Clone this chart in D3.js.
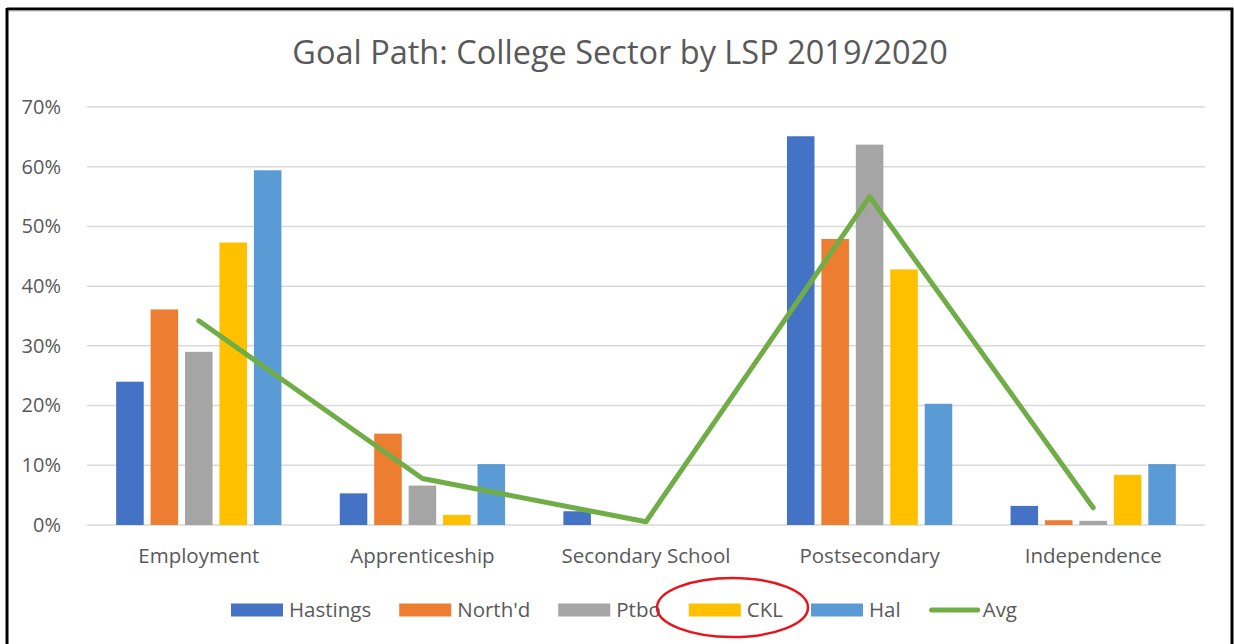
<!DOCTYPE html>
<html>
<head>
<meta charset="utf-8">
<script src="https://cdn.jsdelivr.net/npm/d3@7"></script>
<style>
  body { margin: 0; background: #fff; }
  svg { display: block; font-family: "Open Sans", Lato, sans-serif; }
</style>
</head>
<body>
<svg id="chart" width="1234" height="644"></svg>
<script>
const categories = ["Employment", "Apprenticeship", "Secondary School", "Postsecondary", "Independence"];
const seriesNames = ["Hastings", "North'd", "Ptbo", "CKL", "Hal"];
const hastings = [24.0, 5.3, 2.3, 65.1, 3.2];
const northd   = [36.1, 15.3, 0, 47.9, 0.8];
const ptbo     = [29.0, 6.6, 0, 63.7, 0.7];
const ckl      = [47.3, 1.7, 0, 42.8, 8.4];
const hal      = [59.4, 10.2, 0, 20.3, 10.2];
const avg      = [34.2, 7.8, 0.55, 55.0, 2.9];
const yTicks = [0, 10, 20, 30, 40, 50, 60, 70];

const seriesValues = [hastings, northd, ptbo, ckl, hal];
const colors = ["#4472C4", "#ED7D31", "#A5A5A5", "#FFC000", "#5B9BD5"];
const avgColor = "#70AD47";
const textColor = "#595959";
const fontFam = '"Open Sans", Lato, sans-serif';

const plot = {left: 87, right: 1205, top: 107, bottom: 525};

const svg = d3.select('#chart');

// outer frame
svg.append('line').attr('x1', 7).attr('y1', 9).attr('x2', 1233).attr('y2', 9)
    .style('stroke', '#000').style('stroke-width', 3);
svg.append('line').attr('x1', 7).attr('y1', 11).attr('x2', 1231).attr('y2', 11)
    .style('stroke', '#bfbfbf').style('stroke-width', 1);
svg.append('line').attr('x1', 7).attr('y1', 8).attr('x2', 7).attr('y2', 644)
    .style('stroke', '#000').style('stroke-width', 3);
svg.append('line').attr('x1', 1232).attr('y1', 8).attr('x2', 1232).attr('y2', 644)
    .style('stroke', '#000').style('stroke-width', 3);

svg.append('text')
    .attr('x', 620)
    .attr('y', 64)
    .style('text-anchor', 'middle')
    .style('font-size', '32.5px')
    .style('fill', textColor)
    .text('Goal Path: College Sector by LSP 2019/2020');

const x0 = d3.scaleBand()
    .domain(categories)
    .range([plot.left, plot.right])
    .paddingInner(0.23)
    .paddingOuter(0.115);

const x1 = d3.scaleBand()
    .domain(seriesNames)
    .range([0, x0.bandwidth()])
    .paddingInner(0.2)
    .paddingOuter(0.1);

const y = d3.scaleLinear()
    .domain([0, 70])
    .range([plot.bottom, plot.top]);

// grid
svg.append('g')
    .selectAll('line')
    .data(yTicks)
    .join('line')
    .attr('x1', plot.left)
    .attr('x2', plot.right)
    .attr('y1', d => y(d))
    .attr('y2', d => y(d))
    .style('stroke', '#D9D9D9')
    .style('stroke-width', 1.5);

const yAxis = svg.append('g')
    .attr('transform', `translate(${plot.left - 23}, 0)`)
    .call(d3.axisLeft(y).tickValues(yTicks).tickSize(0).tickFormat(d => d + '%'));
yAxis.select('.domain').remove();
yAxis.selectAll('text')
    .style('font-size', '20px')
    .style('font-family', fontFam)
    .style('fill', textColor);

const xAxis = svg.append('g')
    .attr('transform', `translate(0, ${y(0) + 20})`)
    .call(d3.axisBottom(x0).tickSize(0));
xAxis.select('.domain').remove();
xAxis.selectAll('text')
    .style('font-size', '20.5px')
    .style('font-family', fontFam)
    .style('fill', textColor);

// bars
seriesNames.forEach((name, i) => {
    svg.append('g')
        .selectAll('rect')
        .data(categories.map((c, j) => ({cat: c, value: seriesValues[i][j]})).filter(d => d.value > 0))
        .join('rect')
        .attr('x', d => x0(d.cat) + x1(name))
        .attr('y', d => y(d.value))
        .attr('width', x1.bandwidth())
        .attr('height', d => y(0) - y(d.value))
        .style('fill', colors[i]);
});

// avg line
const line = d3.line()
    .x((d, j) => x0(categories[j]) + x0.bandwidth() / 2)
    .y(d => y(d));

svg.append('path')
    .datum(avg)
    .attr('d', line)
    .style('fill', 'none')
    .style('stroke', avgColor)
    .style('stroke-width', 5)
    .style('stroke-linecap', 'round')
    .style('stroke-linejoin', 'round');

// legend
const legendItems = seriesNames.map((n, i) => ({name: n, color: colors[i], type: 'bar'}))
    .concat([{name: 'Avg', color: avgColor, type: 'line'}]);

const legend = svg.append('g');
let lx = 0;
const legendY = 610;
legendItems.forEach(item => {
    const g = legend.append('g').attr('transform', `translate(${lx}, 0)`);
    if (item.type === 'bar') {
        g.append('rect')
            .attr('x', 0).attr('y', legendY - 6.5)
            .attr('width', 52).attr('height', 13)
            .style('fill', item.color);
    } else {
        g.append('line')
            .attr('x1', 3).attr('x2', 49)
            .attr('y1', legendY).attr('y2', legendY)
            .style('stroke', item.color)
            .style('stroke-width', 5)
            .style('stroke-linecap', 'round');
    }
    const t = g.append('text')
        .attr('x', item.type === 'bar' ? 58 : 54)
        .attr('y', legendY)
        .attr('dy', '0.35em')
        .style('font-size', '20.5px')
        .style('fill', textColor)
        .text(item.name);
    lx += (item.type === 'bar' ? 58 : 54) + t.node().getComputedTextLength() + 28;
});
const legendWidth = lx - 28;
legend.attr('transform', `translate(${(233 + 1015) / 2 - legendWidth / 2}, 0)`);

// red annotation ellipse around CKL
svg.append('ellipse')
    .attr('cx', 732.5)
    .attr('cy', 607.5)
    .attr('rx', 75.5)
    .attr('ry', 29.5)
    .style('fill', 'none')
    .style('stroke', '#E8141B')
    .style('stroke-width', 2.5);
</script>
</body>
</html>
